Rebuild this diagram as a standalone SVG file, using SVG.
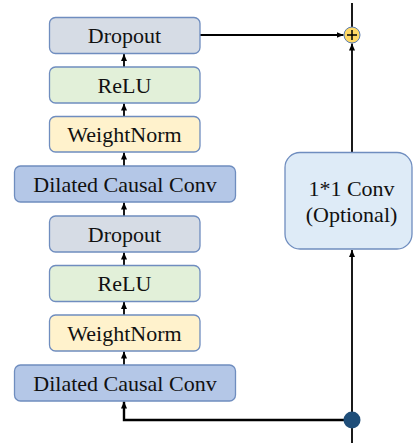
<svg xmlns="http://www.w3.org/2000/svg" width="413" height="443" viewBox="0 0 413 443">
<style>
.box{stroke:#6F8DBF;stroke-width:1.3}
.t{font-family:"Liberation Serif","Times New Roman",serif;font-size:22px;fill:#111;text-anchor:middle}
.ln{stroke:#000;stroke-width:1.8;fill:none}
.drop{fill:#D6DCE5}.relu{fill:#E2F0D9}.wn{fill:#FFF2CC}.dcc{fill:#B4C7E7}.conv{fill:#DEEBF7}
</style>
<defs>
<marker id="ah" markerUnits="userSpaceOnUse" markerWidth="8" markerHeight="8" viewBox="0 0 8 8" refX="7" refY="4" orient="auto">
<path d="M0,1 L7,4 L0,7 Z" fill="#000"/>
</marker>
</defs>
<g id="connectors">
<line class="ln" x1="124" y1="67" x2="124" y2="54" marker-end="url(#ah)"/>
<line class="ln" x1="124" y1="116" x2="124" y2="103.5" marker-end="url(#ah)"/>
<line class="ln" x1="124" y1="166" x2="124" y2="152.5" marker-end="url(#ah)"/>
<line class="ln" x1="124" y1="216" x2="124" y2="202.5" marker-end="url(#ah)"/>
<line class="ln" x1="124" y1="265.5" x2="124" y2="252.5" marker-end="url(#ah)"/>
<line class="ln" x1="124" y1="315" x2="124" y2="302" marker-end="url(#ah)"/>
<line class="ln" x1="124" y1="365" x2="124" y2="351.5" marker-end="url(#ah)"/>
<line class="ln" x1="200" y1="35" x2="343.5" y2="35" marker-end="url(#ah)"/>
<line class="ln" x1="352" y1="3" x2="352" y2="27"/>
<line class="ln" x1="352" y1="152" x2="352" y2="43.5" marker-end="url(#ah)"/>
<line class="ln" x1="352" y1="443" x2="352" y2="250" marker-end="url(#ah)"/>
<polyline class="ln" style="stroke-width:2.4" points="352,420 124,420 124,401.5" marker-end="url(#ah)"/>
</g>
<g id="dropout1"><rect class="box drop" x="49.5" y="17.5" width="150.5" height="36" rx="6"/><text class="t" x="124.5" y="43">Dropout</text></g>
<g id="relu1"><rect class="box relu" x="49.5" y="67" width="150.5" height="36" rx="6"/><text class="t" x="124.5" y="92.5">ReLU</text></g>
<g id="weightnorm1"><rect class="box wn" x="49.5" y="116.5" width="150.5" height="35.5" rx="6"/><text class="t" x="124.5" y="142">WeightNorm</text></g>
<g id="dcc1"><rect class="box dcc" x="14.5" y="166" width="221" height="36" rx="6"/><text class="t" x="125" y="191.5">Dilated Causal Conv</text></g>
<g id="dropout2"><rect class="box drop" x="49.5" y="216" width="150.5" height="36" rx="6"/><text class="t" x="124.5" y="241.5">Dropout</text></g>
<g id="relu2"><rect class="box relu" x="49.5" y="265.5" width="150.5" height="36" rx="6"/><text class="t" x="124.5" y="291">ReLU</text></g>
<g id="weightnorm2"><rect class="box wn" x="49.5" y="315" width="150.5" height="36" rx="6"/><text class="t" x="124.5" y="340.5">WeightNorm</text></g>
<g id="dcc2"><rect class="box dcc" x="14.5" y="365" width="221" height="36" rx="6"/><text class="t" x="125" y="390.5">Dilated Causal Conv</text></g>
<g id="conv11"><rect class="box conv" x="285" y="152.5" width="127" height="96.5" rx="15"/><text class="t" x="351.5" y="196">1*1 Conv</text><text class="t" x="351.5" y="222">(Optional)</text></g>
<g id="add"><circle cx="352" cy="35" r="8" fill="#FFD966" stroke="#5B7DB1" stroke-width="1"/><path d="M347,35 H357 M352,30 V40" stroke="#000" stroke-width="1.5"/></g>
<g id="split"><circle cx="352" cy="420" r="8.5" fill="#1F4E79"/></g>
</svg>
